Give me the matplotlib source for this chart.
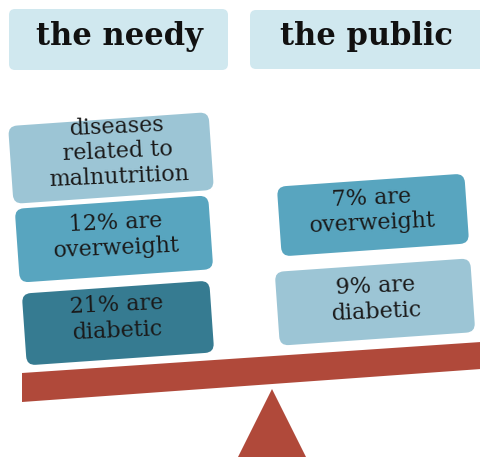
import matplotlib.pyplot as plt
from matplotlib.patches import FancyBboxPatch, Polygon
from matplotlib.transforms import Affine2D

# groups compared on the seesaw
groups = ['the needy', 'the public']

# statements stacked on each side
needy_labels = ['diseases\nrelated to\nmalnutrition', '12% are\noverweight', '21% are\ndiabetic']
public_labels = ['7% are\noverweight', '9% are\ndiabetic']

light = '#9cc5d5'
mid = '#58a5bf'
dark = '#367b91'
head_col = '#d0e8ef'
red = '#b0493a'

W, H = 481, 457
fig = plt.figure(figsize=(W / 100, H / 100), dpi=100)
ax = fig.add_axes([0, 0, 1, 1])
ax.set_xlim(0, W)
ax.set_ylim(0, H)
ax.axis('off')


def y(v):
    # image row -> axis coordinate
    return H - v


def box(cx, cy, w, h, color, label, ang=4, tcx=None, tcy=None):
    tr = Affine2D().rotate_deg_around(cx, y(cy), ang) + ax.transData
    p = FancyBboxPatch((cx - w / 2, y(cy) - h / 2), w, h,
                       boxstyle='round,pad=0,rounding_size=10',
                       fc=color, ec='white', lw=1.5, transform=tr)
    ax.add_patch(p)
    ax.text(tcx if tcx else cx, y(tcy if tcy else cy), label,
            ha='center', va='center', rotation=2.5,
            fontsize=16, family='DejaVu Serif', color='#1a1a1a',
            linespacing=1.2, rotation_mode='anchor')


# header boxes
heads = [(9, 9, 219, 61), (250, 10, 240, 59)]
for (x0, y0, w, h), g in zip(heads, groups):
    ax.add_patch(FancyBboxPatch((x0, y(y0 + h)), w, h,
                                boxstyle='round,pad=0,rounding_size=6',
                                fc=head_col, ec='none'))
tx = [119, 367]
for g, x in zip(groups, tx):
    ax.text(x, y(37), g, ha='center', va='center', fontsize=22,
            fontweight='bold', family='DejaVu Serif', color='#111111')

# left stack
left_pos = [(111, 158, 203, 80), (114, 239, 196, 76), (118, 323, 190, 74)]
left_txt = [(118, 152), (116, 236), (117, 318)]
left_cols = [light, mid, dark]
for (cx, cy, w, h), (tx_, ty_), c, lab in zip(left_pos, left_txt, left_cols, needy_labels):
    box(cx, cy, w, h, c, lab, tcx=tx_, tcy=ty_)

# right stack
right_pos = [(373, 215, 190, 72), (375, 302, 198, 76)]
right_txt = [(372, 211), (376, 299)]
right_cols = [mid, light]
for (cx, cy, w, h), (tx_, ty_), c, lab in zip(right_pos, right_txt, right_cols, public_labels):
    box(cx, cy, w, h, c, lab, tcx=tx_, tcy=ty_)

# seesaw beam and pivot
beam = [(22, y(373)), (481, y(342)), (481, y(369)), (22, y(402))]
ax.add_patch(Polygon(beam, closed=True, fc=red, ec='none'))
pivot = [(272, y(389)), (238, y(457)), (306, y(457))]
ax.add_patch(Polygon(pivot, closed=True, fc=red, ec='none'))

fig.savefig('out.png', dpi=100, facecolor='white')
